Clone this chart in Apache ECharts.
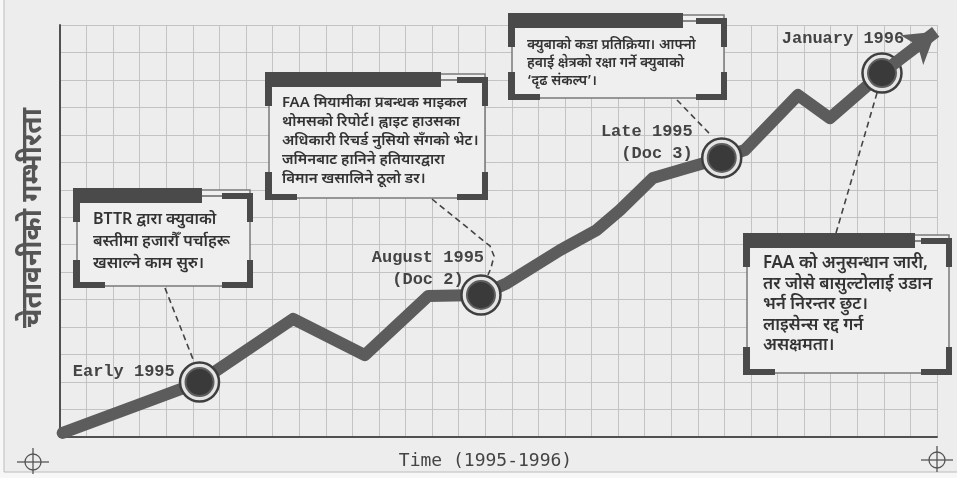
<!DOCTYPE html>
<html>
<head>
<meta charset="utf-8">
<script src="https://cdn.jsdelivr.net/npm/echarts@6/dist/echarts.min.js"></script>
<style>
html,body{margin:0;padding:0;background:#f7f7f7;}
#c{width:957px;height:478px;}
</style>
</head>
<body>
<div id="c"></div>
<script>
// ---- data ----
const trendX = [0.1, 5.25, 8.77, 11.47, 13.85, 15.84, 16.82, 18.81, 20.2, 21.07, 22.31, 23.59, 24.9, 25.77, 27.77, 28.97, 30.93];
const trendY = [0.15, 2.0, 4.3, 2.98, 5.13, 5.17, 5.6, 6.8, 7.54, 8.26, 9.43, 9.79, 10.16, 10.45, 12.45, 11.61, 13.25];
const arrowEnd = [32.95, 14.75];
const milestoneNames = ['Early 1995', 'August 1995\n(Doc 2)', 'Late 1995\n(Doc 3)', 'January 1996'];
const milestoneX = [5.25, 15.84, 24.9, 30.93];
const milestoneY = [2.0, 5.17, 10.16, 13.25];
const xTitle = 'Time (1995-1996)';
const yTitle = 'चेतावनीको गम्भीरता';
const notes = [
  ['BTTR द्वारा क्युवाको', 'बस्तीमा हजारौँ पर्चाहरू', 'खसाल्ने काम सुरु।'],
  ['FAA मियामीका प्रबन्धक माइकल', 'थोमसको रिपोर्ट। ह्वाइट हाउसका', 'अधिकारी रिचर्ड नुसियो सँगको भेट।', 'जमिनबाट हानिने हतियारद्वारा', 'विमान खसालिने ठूलो डर।'],
  ['क्युबाको कडा प्रतिक्रिया। आफ्नो', 'हवाई क्षेत्रको रक्षा गर्ने क्युबाको', '‘दृढ संकल्प’।'],
  ['FAA को अनुसन्धान जारी,', 'तर जोसे बासुल्टोलाई उडान', 'भर्न निरन्तर छुट।', 'लाइसेन्स रद्द गर्न', 'असक्षमता।']
];

const DEVA = "'Noto Sans Devanagari','Noto Sans',sans-serif";
const MONO = "'Liberation Mono','Courier New',monospace";

const chart = echarts.init(document.getElementById('c'), null, {renderer: 'canvas'});

const labelCfg = [
  {position: 'left', distance: 4, offset: [0, -10], align: 'right'},
  {position: 'inside', offset: [-53, -26], align: 'center'},
  {position: 'inside', offset: [-29, -15], align: 'right'},
  {position: 'inside', offset: [-39, -34], align: 'center'}
];

const outerData = milestoneX.map((x, i) => ({
  value: [x, milestoneY[i]],
  label: Object.assign({
    show: true,
    formatter: milestoneNames[i],
    fontFamily: MONO, fontWeight: 'bold', fontSize: 17, color: '#444', lineHeight: 22
  }, labelCfg[i])
}));
const innerData = milestoneX.map((x, i) => [x, milestoneY[i]]);

function box(x, y, w, h, barW, lines, fs, lh, tx, ty) {
  const c = '#4a4a4a';
  const els = [];
  els.push({type: 'rect', shape: {x: x + 4, y: y + 2, width: w - 7, height: h - 4}, style: {fill: '#efefef', stroke: '#7a7a7a', lineWidth: 1.5}});
  els.push({type: 'rect', shape: {x: x, y: y, width: barW, height: 15}, style: {fill: c}});
  els.push({type: 'line', shape: {x1: x + barW, y1: y + 8, x2: x + w - 30, y2: y + 8}, style: {stroke: '#666', lineWidth: 1.5}});
  els.push({type: 'rect', shape: {x: x + w - 31, y: y + 5, width: 31, height: 6}, style: {fill: c}});
  els.push({type: 'rect', shape: {x: x + w - 6, y: y + 5, width: 6, height: 29}, style: {fill: c}});
  els.push({type: 'rect', shape: {x: x, y: y, width: 7, height: 34}, style: {fill: c}});
  els.push({type: 'rect', shape: {x: x, y: y + h - 28, width: 7, height: 28}, style: {fill: c}});
  els.push({type: 'rect', shape: {x: x, y: y + h - 6, width: 32, height: 6}, style: {fill: c}});
  els.push({type: 'rect', shape: {x: x + w - 6, y: y + h - 28, width: 6, height: 28}, style: {fill: c}});
  els.push({type: 'rect', shape: {x: x + w - 31, y: y + h - 6, width: 31, height: 6}, style: {fill: c}});
  els.push({type: 'text', x: tx, y: ty, style: {text: lines.join('\n'), font: '600 ' + fs + 'px ' + DEVA, fill: '#333', lineHeight: lh, textVerticalAlign: 'top'}});
  return {type: 'group', z: 50, children: els};
}

function crosshair(cx, cy) {
  return {type: 'group', z: 5, children: [
    {type: 'circle', shape: {cx: cx, cy: cy, r: 8}, style: {fill: 'none', stroke: '#555', lineWidth: 1.3}},
    {type: 'line', shape: {x1: cx - 16, y1: cy, x2: cx + 16, y2: cy}, style: {stroke: '#555', lineWidth: 1.3}},
    {type: 'line', shape: {x1: cx, y1: cy - 14, x2: cx, y2: cy + 12}, style: {stroke: '#555', lineWidth: 1.3}}
  ]};
}

function dashed(points) {
  return {type: 'polyline', z: 40, shape: {points: points}, style: {stroke: '#444', lineWidth: 1.6, lineDash: [6, 4], fill: 'none'}};
}

chart.setOption({
  animation: false,
  backgroundColor: '#f7f7f7',
  grid: {left: 60, top: 25, width: 877, height: 412, show: false, containLabel: false, outerBoundsMode: 'none'},
  xAxis: {
    type: 'value', min: 0, max: 33, interval: 1,
    axisLine: {show: true, onZero: false, lineStyle: {color: '#505050', width: 2}},
    axisTick: {show: false}, axisLabel: {show: false},
    splitLine: {show: true, lineStyle: {color: '#c3c3c3', width: 1}},
    name: xTitle, nameLocation: 'middle', nameGap: 15,
    nameTextStyle: {fontFamily: "'DejaVu Sans Mono',monospace", fontSize: 18, color: '#444', padding: [0, 26, 0, 0]}
  },
  yAxis: {
    type: 'value', min: 0, max: 15, interval: 1,
    axisLine: {show: true, onZero: false, lineStyle: {color: '#505050', width: 2}},
    axisTick: {show: false}, axisLabel: {show: false},
    splitLine: {show: true, lineStyle: {color: '#c3c3c3', width: 1}},
    name: yTitle, nameLocation: 'middle', nameGap: 10, nameRotate: 90,
    nameTextStyle: {fontFamily: DEVA, fontWeight: 'bold', fontSize: 28, color: '#555', padding: [0, 0, 0, 26]}
  },
  series: [
    {
      type: 'line', z: 3, silent: true,
      data: trendX.map((x, i) => [x, trendY[i]]),
      symbol: 'none', smooth: false,
      lineStyle: {color: '#5c5c5c', width: 12, cap: 'round', join: 'round'},
      markLine: {
        silent: true, animation: false,
        symbol: ['none', 'arrow'], symbolSize: [28, 30],
        label: {show: false},
        lineStyle: {color: '#5c5c5c', width: 12, type: 'solid'},
        emphasis: {disabled: true},
        data: [[{coord: [trendX[trendX.length - 1], trendY[trendY.length - 1]]}, {coord: arrowEnd}]]
      }
    },
    {
      type: 'scatter', z: 4, silent: true,
      data: outerData,
      symbol: 'circle', symbolSize: 39,
      itemStyle: {color: '#e4e4e4', borderColor: '#3e3e3e', borderWidth: 2.5, opacity: 1}
    },
    {
      type: 'scatter', z: 5, silent: true,
      data: innerData,
      symbol: 'circle', symbolSize: 28,
      itemStyle: {color: '#3a3a3a', borderColor: '#5e5e5e', borderWidth: 2, opacity: 1}
    }
  ]
});

const P = i => chart.convertToPixel({gridIndex: 0}, [milestoneX[i], milestoneY[i]]);
const p0 = P(0), p1 = P(1), p2 = P(2), p3 = P(3);

chart.setOption({
  graphic: [
    {type: 'rect', z: -10, shape: {x: 4, y: -2, width: 960, height: 474}, style: {fill: '#ededed', stroke: '#bcbcbc', lineWidth: 1}},
    crosshair(33, 462), crosshair(937, 460),
    dashed([[165, 288], [p0[0] - 5, p0[1] - 19]]),
    dashed([[432, 199], [490, 246], [494, 256], [491, 268], [p1[0] + 7, p1[1] - 20]]),
    dashed([[677, 100], [p2[0] - 10, p2[1] - 22]]),
    dashed([[836, 233], [p3[0] - 5, p3[1] + 20]]),
    box(73, 188, 180, 100, 129, notes[0], 16, 22, 93, 210),
    box(265, 72, 223, 128, 176, notes[1], 15, 19, 282, 95),
    box(508, 13, 219, 87, 175, notes[2], 14, 18, 527, 37),
    box(743, 233, 209, 142, 172, notes[3], 17, 20.5, 763, 255)
  ]
});
</script>
</body>
</html>
